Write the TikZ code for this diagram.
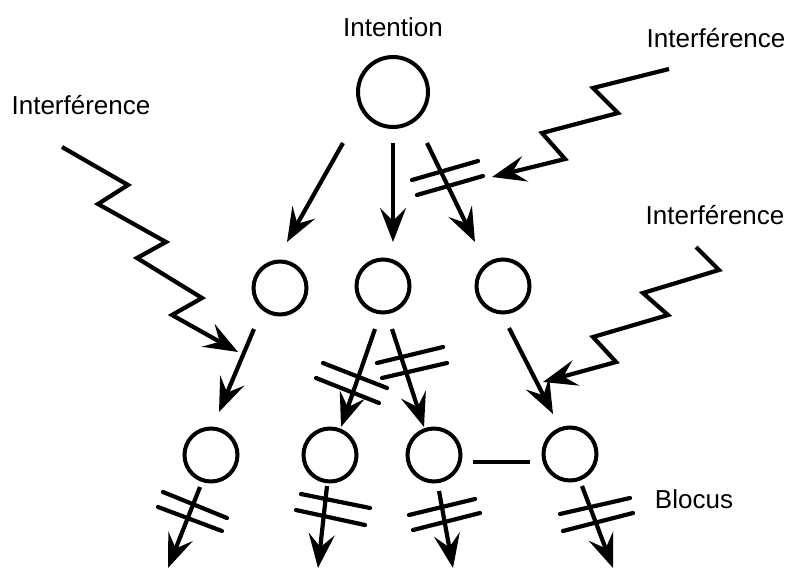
\documentclass[tikz,border=0pt]{standalone}
\usepackage{fontspec}
\setmainfont{Liberation Sans}
\usetikzlibrary{arrows.meta}
\begin{document}
\begin{tikzpicture}[x=1pt,y=-1pt,
  state/.style={circle,draw,line width=4pt,minimum size=53pt,inner sep=0pt},
  flow/.style={line width=4.2pt,-{Stealth[length=34pt,width=26pt,inset=13pt]}},
  zig/.style={line width=4.2pt,line join=miter,-{Stealth[length=34pt,width=26pt,inset=13pt]}},
  bar/.style={line width=4.2pt,line cap=round},
  link/.style={line width=4.2pt},
  lbl/.style={font=\fontsize{26}{30}\selectfont,anchor=base,inner sep=0pt}]
\useasboundingbox (0,0) rectangle (792,570);

% states
\node[state,minimum size=70pt] (i) at (393,92) {};
\node[state] (m1) at (280,288) {};
\node[state] (m2) at (383,286) {};
\node[state] (m3) at (503,286) {};
\node[state] (b1) at (211,455) {};
\node[state] (b2) at (330,455) {};
\node[state] (b3) at (434,455) {};
\node[state] (b4) at (570,454) {};

% labels
\node[lbl] (tI) at (393,36) {Intention};
\node[lbl] (tR1) at (716,47) {Interférence};
\node[lbl] (tL) at (81,114) {Interférence};
\node[lbl] (tR2) at (715,224) {Interférence};
\node[lbl] (tB) at (694,508) {Blocus};

% arrow end points
\coordinate (i1) at (343,143);  \coordinate (m1t) at (287,242);
\coordinate (i2) at (393,143);  \coordinate (m2t) at (393,242);
\coordinate (i3) at (427,143);  \coordinate (m3t) at (475,242);
\coordinate (m1o) at (254,329); \coordinate (b1t) at (219,412);
\coordinate (m2a) at (375,329); \coordinate (b2t) at (341,427);
\coordinate (m2b) at (392,329); \coordinate (b3t) at (424,427);
\coordinate (m3o) at (509,328); \coordinate (b4t) at (553,414);
\coordinate (b1o) at (200,487); \coordinate (e1) at (168,568);
\coordinate (b2o) at (327,486); \coordinate (e2) at (318,568);
\coordinate (b3o) at (439,491); \coordinate (e3) at (453,568);
\coordinate (b4o) at (582,486); \coordinate (e4) at (613,568);
\coordinate (b3r) at (473,462); \coordinate (b4l) at (530,462);

% transitions
\draw[flow] (i1) -- (m1t);
\draw[flow] (i2) -- (m2t);
\draw[flow] (i3) -- (m3t);
\draw[flow] (m1o) -- (b1t);
\draw[flow] (m2a) -- (b2t);
\draw[flow] (m2b) -- (b3t);
\draw[flow] (m3o) -- (b4t);
\draw[flow] (b1o) -- (e1);
\draw[flow] (b2o) -- (e2);
\draw[flow] (b3o) -- (e3);
\draw[flow] (b4o) -- (e4);
\draw[link] (b3r) -- (b4l);

% blocking bars
\draw[bar] (412,180) -- (478,161);
\draw[bar] (417,195) -- (483,176);
\draw[bar] (323,363) -- (387,388);
\draw[bar] (316,378) -- (379,403);
\draw[bar] (377,363) -- (443,347);
\draw[bar] (382,378) -- (447,363);
\draw[bar] (163,492) -- (227,518);
\draw[bar] (158,507) -- (222,531);
\draw[bar] (301,494) -- (370,508);
\draw[bar] (296,510) -- (365,525);
\draw[bar] (409,515) -- (475,499);
\draw[bar] (413,530) -- (480,513);
\draw[bar] (560,514) -- (630,498);
\draw[bar] (563,531) -- (633,513);

% interference paths
\coordinate (z1s) at (669,69);  \coordinate (z1e) at (492,177);
\coordinate (z2s) at (62,147);  \coordinate (z2e) at (238,352);
\coordinate (z3s) at (696,247); \coordinate (z3e) at (543,382);
\draw[zig] (z1s) -- (593,88) -- (618,113) -- (542,133) -- (565,159) -- (z1e);
\draw[zig] (z2s) -- (128,185) -- (98,204) -- (166,242) -- (137,258) -- (202,298) -- (172,315) -- (z2e);
\draw[zig] (z3s) -- (719,270) -- (643,293) -- (668,315) -- (593,337) -- (616,362) -- (z3e);
\end{tikzpicture}
\end{document}
